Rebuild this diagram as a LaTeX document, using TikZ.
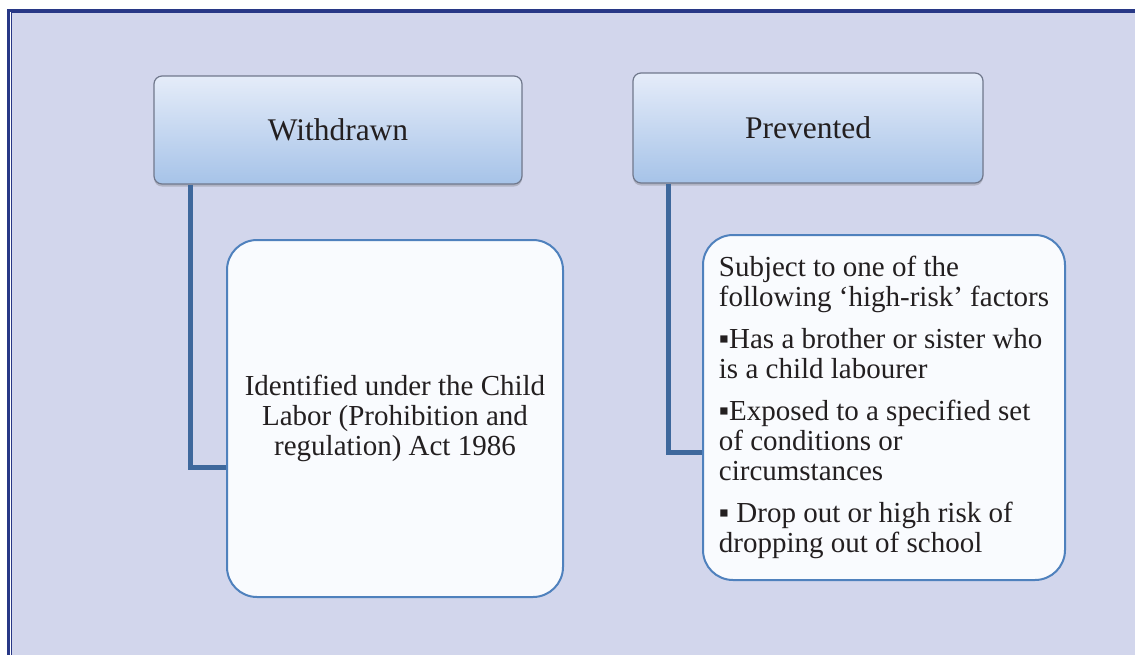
\documentclass[tikz,border=0pt]{standalone}
\usepackage{fontspec}
\setmainfont{Liberation Serif}
\usetikzlibrary{shadows}

\definecolor{pagebg}{RGB}{210,214,236}
\definecolor{framecol}{RGB}{40,56,134}
\definecolor{hdtop}{RGB}{229,236,249}
\definecolor{hdmid}{RGB}{211,222,243}
\definecolor{hdbot}{RGB}{166,195,232}
\definecolor{hdedge}{RGB}{112,120,140}
\definecolor{cardfill}{RGB}{249,251,254}
\definecolor{cardedge}{RGB}{79,129,189}
\definecolor{linkcol}{RGB}{62,104,156}
\definecolor{inkcol}{RGB}{35,31,32}

\tikzset{
  header/.style={rectangle, rounded corners=8pt, draw=hdedge, line width=1.2pt,
    top color=hdtop, middle color=hdmid, bottom color=hdbot,
    drop shadow={shadow xshift=0pt, shadow yshift=-2.5pt, opacity=0.25, fill=black!70},
    text=inkcol, font=\fontsize{31.5}{34}\selectfont, inner sep=0pt},
  card/.style={rectangle, rounded corners=30pt, draw=cardedge, line width=2pt,
    fill=cardfill, text=inkcol, font=\fontsize{29}{30}\selectfont, inner sep=0pt},
  link/.style={draw=linkcol, line width=5pt},
}

\begin{document}
\begin{tikzpicture}[x=1pt, y=-1pt]
  \useasboundingbox (0,0) rectangle (1135,654);

  % page background and double frame
  \fill[white] (0,0) rectangle (1135,654);
  \fill[pagebg] (12,13) rectangle (1160,680);
  \draw[framecol, line width=3pt] (8.5,10) rectangle (1170,690);
  \draw[framecol, line width=1.2pt] (11.6,12.8) rectangle (1165,685);

  % category headers
  \node[header, minimum width=368pt, minimum height=108pt] (w) at (338,130) {Withdrawn};
  \node[header, minimum width=350pt, minimum height=110pt] (p) at (808,128) {Prevented};

  % detail cards
  \node[card, align=center, minimum width=336pt, minimum height=357pt] (wd) at (395,418.5)
    {Identified under the Child\\ Labor (Prohibition and\\ regulation) Act 1986};
  \node[card, align=left, minimum width=362pt, minimum height=345pt] (pd) at (884,407.5)
    {Subject to one of the\\ following ‘high-risk’ factors\\[12pt]
     ▪Has a brother or sister who\\ is a child labourer\\[12pt]
     ▪Exposed to a specified set\\ of conditions or\\ circumstances\\[12pt]
     ▪ Drop out or high risk of\\ dropping out of school};

  % elbow connectors from each header down to its card
  \coordinate (wk) at (190,467);
  \coordinate (pk) at (668,452);
  \draw[link] (w.south -| wk) |- (wd.west |- wk);
  \draw[link] (p.south -| pk) |- (pd.west |- pk);
\end{tikzpicture}
\end{document}
